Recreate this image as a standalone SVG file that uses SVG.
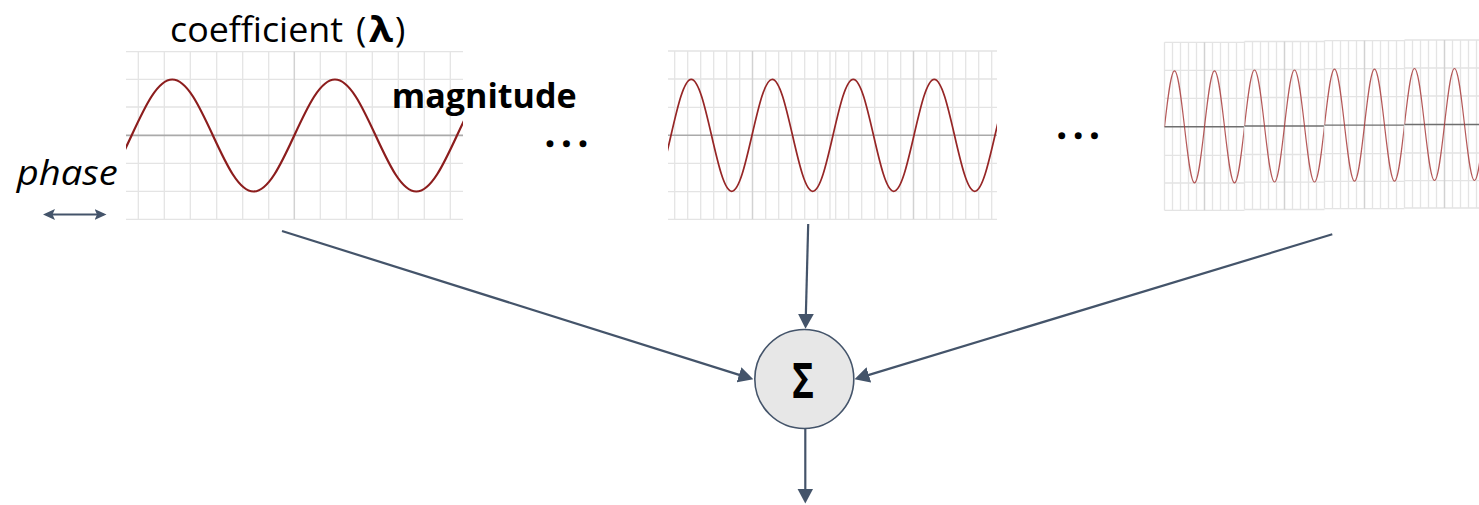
<svg xmlns="http://www.w3.org/2000/svg" xmlns:xlink="http://www.w3.org/1999/xlink" width="1479" height="505" viewBox="0 0 1479 505">
<style>
.g{stroke:#e4e4e4;stroke-width:1.3;fill:none}
.gv{stroke:#d2d2d2;stroke-width:1.5;fill:none}
.ax{stroke:#aaaaaa;stroke-width:1.6;fill:none}
.ax3{stroke:#6e6e6e;stroke-width:1.4;fill:none}
.conn{stroke:#44546a;stroke-width:2.2;fill:none}
.t{font-family:"Open Sans","Liberation Sans",sans-serif;fill:#000}
.dots{stroke:#000;stroke-width:2.4;stroke-linejoin:round}
</style>
<defs>
<marker id="arr" viewBox="0 0 15 16" refX="11" refY="8" markerWidth="15" markerHeight="16" orient="auto" markerUnits="userSpaceOnUse"><path d="M0,0 L15,8 L0,16 z" fill="#44546a"/></marker>
<marker id="arrs" viewBox="0 0 12 11" refX="9" refY="5.5" markerWidth="12" markerHeight="11" orient="auto-start-reverse" markerUnits="userSpaceOnUse"><path d="M0,0 L12,5.5 L0,11 L2.5,5.5 z" fill="#44546a"/></marker>
<clipPath id="c1"><rect x="126" y="50" width="337" height="171"/></clipPath>
<clipPath id="c2"><rect x="668" y="50" width="329" height="171"/></clipPath>
<clipPath id="c3"><rect x="0" y="-2" width="80" height="172"/></clipPath>
<g id="tile3">
<path class="g" d="M0,0H80M0,28H80M0,56H80M0,113H80M0,140.7H80M0,168H80"/>
<path class="g" d="M0,0V168M8,0V168M16,0V168M24,0V168M32,0V168M48,0V168M56,0V168M64,0V168M72,0V168"/>
<path class="gv" d="M40,0V168"/>
<path class="ax3" d="M0,84.5H80"/>
<g clip-path="url(#c3)"><path d="M0,84.5 c3.26,-28.69 6.38,-56 10,-56 c3.62,0 6.74,27.31 10,56 c3.26,28.69 6.38,56 10,56 c3.62,0 6.74,-27.31 10,-56 c3.26,-28.69 6.38,-56 10,-56 c3.62,0 6.74,27.31 10,56 c3.26,28.69 6.38,56 10,56 c3.62,0 6.74,-27.31 10,-56" fill="none" stroke="#a83c3c" stroke-width="1.2" stroke-opacity="0.85"/></g>
</g>
</defs>

<g id="plot1">
<path class="g" d="M126,51.7H463M126,79.3H463M126,107H463M126,163.3H463M126,191.3H463M126,219.3H463"/>
<path class="g" d="M138.3,51.7V219.3M164.3,51.7V219.3M190.3,51.7V219.3M216.7,51.7V219.3M242.7,51.7V219.3M268.7,51.7V219.3M320.3,51.7V219.3M346.3,51.7V219.3M372.3,51.7V219.3M398.3,51.7V219.3M424.3,51.7V219.3M450.3,51.7V219.3"/>
<path class="gv" d="M294.3,51.7V219.3"/>
<path class="ax" d="M126,135.4H463"/>
<g clip-path="url(#c1)"><path d="M90.9,191.5 c14.72,0 27.41,-27.31 40.675,-56 c13.26,-28.69 25.96,-56 40.675,-56 c14.72,0 27.41,27.31 40.675,56 c13.26,28.69 25.96,56 40.675,56 c14.72,0 27.41,-27.31 40.675,-56 c13.26,-28.69 25.96,-56 40.675,-56 c14.72,0 27.41,27.31 40.675,56 c13.26,28.69 25.96,56 40.675,56 c14.72,0 27.41,-27.31 40.675,-56 c13.26,-28.69 25.96,-56 40.675,-56 c14.72,0 27.41,27.31 40.675,56 c13.26,28.69 25.96,56 40.675,56" fill="none" stroke="#8c1d1d" stroke-width="2.2"/></g>
</g>

<g id="plot2">
<path class="g" d="M668,51H997M668,79H997M668,107.3H997M668,163.3H997M668,191.7H997M668,219.3H997"/>
<path class="g" d="M674.7,51V219.3M687.7,51V219.3M700.7,51V219.3M713.7,51V219.3M726.7,51V219.3M739.7,51V219.3M765.7,51V219.3M778.7,51V219.3M791.7,51V219.3M804.7,51V219.3M817.7,51V219.3M830,51V219.3M835.7,51V219.3M848.7,51V219.3M861.7,51V219.3M874.7,51V219.3M887.7,51V219.3M900.7,51V219.3M926.7,51V219.3M939.7,51V219.3M952.7,51V219.3M965.7,51V219.3M978.7,51V219.3M991.7,51V219.3"/>
<path class="gv" d="M752.5,51V219.3M913.5,51V219.3"/>
<path class="ax" d="M668,135.3H997"/>
<g clip-path="url(#c2)"><path d="M650.75,191.3 c7.33,0 13.65,-27.31 20.25,-56 c6.6,-28.69 12.92,-56 20.25,-56 c7.33,0 13.65,27.31 20.25,56 c6.6,28.69 12.92,56 20.25,56 c7.33,0 13.65,-27.31 20.25,-56 c6.6,-28.69 12.92,-56 20.25,-56 c7.33,0 13.65,27.31 20.25,56 c6.6,28.69 12.92,56 20.25,56 c7.33,0 13.65,-27.31 20.25,-56 c6.6,-28.69 12.92,-56 20.25,-56 c7.33,0 13.65,27.31 20.25,56 c6.6,28.69 12.92,56 20.25,56 c7.33,0 13.65,-27.31 20.25,-56 c6.6,-28.69 12.92,-56 20.25,-56 c7.33,0 13.65,27.31 20.25,56 c6.6,28.69 12.92,56 20.25,56 c7.33,0 13.65,-27.31 20.25,-56 c6.6,-28.69 12.92,-56 20.25,-56 c7.33,0 13.65,27.31 20.25,56 c6.6,28.69 12.92,56 20.25,56" fill="none" stroke="#962626" stroke-width="1.7"/></g>
</g>

<g id="plot3">
<use xlink:href="#tile3" href="#tile3" transform="translate(1164.5,42.3)"/>
<use xlink:href="#tile3" href="#tile3" transform="translate(1244.5,41.5)"/>
<use xlink:href="#tile3" href="#tile3" transform="translate(1324.5,40.6)"/>
<use xlink:href="#tile3" href="#tile3" transform="translate(1404.5,40)"/>
</g>

<g id="labels">
<text class="t" x="170" y="41.5" font-size="35" textLength="173" lengthAdjust="spacingAndGlyphs">coefficient</text>
<text class="t" x="356" y="41.5" font-size="35">(</text>
<text class="t" x="369" y="41.5" font-size="35" font-weight="bold" textLength="24" lengthAdjust="spacingAndGlyphs">λ</text>
<text class="t" x="395" y="41.5" font-size="35">)</text>
<text class="t" x="391.7" y="107.7" font-size="34" font-weight="bold" textLength="185" lengthAdjust="spacingAndGlyphs">magnitude</text>
<text class="t" x="16.7" y="185" font-size="34" font-style="italic" textLength="101" lengthAdjust="spacingAndGlyphs">phase</text>
<text class="t dots" x="546.3" y="146" font-size="26" font-weight="bold" letter-spacing="9">...</text>
<text class="t dots" x="1058" y="137.7" font-size="26" font-weight="bold" letter-spacing="9">...</text>
</g>

<g id="sum">
<circle cx="804.3" cy="379" r="49.5" fill="#e7e7e7" stroke="#44546a" stroke-width="1.6"/>
<text class="t" x="792" y="398.3" font-size="48" font-weight="bold" textLength="22" lengthAdjust="spacingAndGlyphs">Σ</text>
</g>

<g id="connectors">
<line class="conn" x1="46" y1="214.5" x2="103.5" y2="214.5" stroke-width="2.6" marker-start="url(#arrs)" marker-end="url(#arrs)"/>
<line class="conn" x1="282" y1="231" x2="749.5" y2="378.1" marker-end="url(#arr)"/>
<line class="conn" x1="808.2" y1="224" x2="805.6" y2="324.7" marker-end="url(#arr)"/>
<line class="conn" x1="1332.3" y1="234.3" x2="858.3" y2="378.1" marker-end="url(#arr)"/>
<line class="conn" x1="805.3" y1="429" x2="805.3" y2="499.5" marker-end="url(#arr)"/>
</g>
</svg>
